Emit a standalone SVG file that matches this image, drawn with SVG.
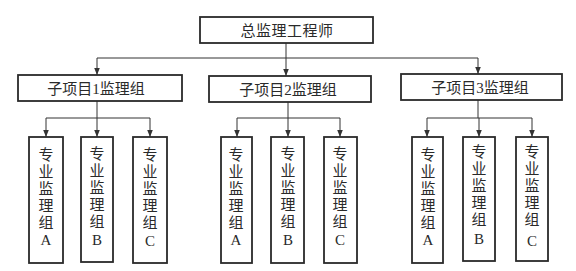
<svg xmlns="http://www.w3.org/2000/svg" width="576" height="271" viewBox="0 0 576 271">
<defs>
<style>
.box{fill:#fff;stroke:#2a2a2a;stroke-width:1.8}
.ln{fill:none;stroke:#333;stroke-width:1}
.t{font-family:"Liberation Serif","Noto Sans CJK SC",serif;font-size:15px;fill:#2a2a2a;text-anchor:middle}
</style>
<marker id="ar" viewBox="0 0 8 8" refX="8" refY="4" markerWidth="7" markerHeight="7" markerUnits="userSpaceOnUse" orient="auto">
<path d="M0,0.8 L8,4 L0,7.2 Z" fill="#333"/>
</marker>
</defs>
<rect width="576" height="271" fill="#fff"/>
<g id="connectors">
<line class="ln" x1="286" y1="43" x2="286" y2="58"/>
<line class="ln" x1="97" y1="58" x2="478" y2="58"/>
<line class="ln" x1="97" y1="58" x2="97" y2="75" marker-end="url(#ar)"/>
<line class="ln" x1="286" y1="58" x2="286" y2="76" marker-end="url(#ar)"/>
<line class="ln" x1="478" y1="58" x2="478" y2="74" marker-end="url(#ar)"/>
<line class="ln" x1="97" y1="101" x2="97" y2="118"/>
<line class="ln" x1="46" y1="118" x2="150" y2="118"/>
<line class="ln" x1="46" y1="118" x2="46" y2="137" marker-end="url(#ar)"/>
<line class="ln" x1="97" y1="118" x2="97" y2="137" marker-end="url(#ar)"/>
<line class="ln" x1="150" y1="118" x2="150" y2="137" marker-end="url(#ar)"/>
<line class="ln" x1="288" y1="102" x2="288" y2="118"/>
<line class="ln" x1="237" y1="118" x2="340" y2="118"/>
<line class="ln" x1="237" y1="118" x2="237" y2="137" marker-end="url(#ar)"/>
<line class="ln" x1="288" y1="118" x2="288" y2="137" marker-end="url(#ar)"/>
<line class="ln" x1="340" y1="118" x2="340" y2="137" marker-end="url(#ar)"/>
<line class="ln" x1="478" y1="100" x2="478" y2="118"/>
<line class="ln" x1="427" y1="118" x2="532" y2="118"/>
<line class="ln" x1="427" y1="118" x2="427" y2="137" marker-end="url(#ar)"/>
<line class="ln" x1="479" y1="118" x2="479" y2="137" marker-end="url(#ar)"/>
<line class="ln" x1="532" y1="118" x2="532" y2="137" marker-end="url(#ar)"/>
</g>
<g id="chief">
<rect class="box" x="200" y="17" width="173" height="26"/>
<text class="t" x="287" y="36" letter-spacing="0.5">总监理工程师</text>
</g>
<g id="sub1">
<rect class="box" x="18" y="75" width="164" height="26"/>
<text class="t" x="96" y="94">子项目1监理组</text>
</g>
<g id="sub2">
<rect class="box" x="209" y="76" width="162" height="26"/>
<text class="t" x="288" y="95">子项目2监理组</text>
</g>
<g id="sub3">
<rect class="box" x="401" y="74" width="161" height="26"/>
<text class="t" x="480" y="93">子项目3监理组</text>
</g>
<g id="s1a"><rect class="box" x="29" y="137" width="34" height="126"/>
<text class="t" x="46"><tspan x="46" y="160">专</tspan><tspan x="46" y="177">业</tspan><tspan x="46" y="194">监</tspan><tspan x="46" y="211">理</tspan><tspan x="46" y="228">组</tspan><tspan x="46" y="245">A</tspan></text></g>
<g id="s1b"><rect class="box" x="81" y="137" width="32" height="125"/>
<text class="t" x="97"><tspan x="97" y="159">专</tspan><tspan x="97" y="176">业</tspan><tspan x="97" y="193">监</tspan><tspan x="97" y="210">理</tspan><tspan x="97" y="227">组</tspan><tspan x="97" y="245">B</tspan></text></g>
<g id="s1c"><rect class="box" x="133" y="137" width="34" height="126"/>
<text class="t" x="150"><tspan x="150" y="160">专</tspan><tspan x="150" y="177">业</tspan><tspan x="150" y="194">监</tspan><tspan x="150" y="211">理</tspan><tspan x="150" y="228">组</tspan><tspan x="150" y="246">C</tspan></text></g>
<g id="s2a"><rect class="box" x="221" y="137" width="31" height="126"/>
<text class="t" x="236"><tspan x="236" y="160">专</tspan><tspan x="236" y="177">业</tspan><tspan x="236" y="194">监</tspan><tspan x="236" y="211">理</tspan><tspan x="236" y="228">组</tspan><tspan x="236" y="245">A</tspan></text></g>
<g id="s2b"><rect class="box" x="271" y="137" width="33" height="126"/>
<text class="t" x="288"><tspan x="288" y="159">专</tspan><tspan x="288" y="176">业</tspan><tspan x="288" y="193">监</tspan><tspan x="288" y="210">理</tspan><tspan x="288" y="227">组</tspan><tspan x="288" y="245">B</tspan></text></g>
<g id="s2c"><rect class="box" x="324" y="137" width="33" height="126"/>
<text class="t" x="340"><tspan x="340" y="159">专</tspan><tspan x="340" y="176">业</tspan><tspan x="340" y="193">监</tspan><tspan x="340" y="210">理</tspan><tspan x="340" y="227">组</tspan><tspan x="340" y="245">C</tspan></text></g>
<g id="s3a"><rect class="box" x="412" y="137" width="31" height="126"/>
<text class="t" x="428"><tspan x="428" y="160">专</tspan><tspan x="428" y="177">业</tspan><tspan x="428" y="194">监</tspan><tspan x="428" y="211">理</tspan><tspan x="428" y="228">组</tspan><tspan x="428" y="245">A</tspan></text></g>
<g id="s3b"><rect class="box" x="463" y="137" width="32" height="124"/>
<text class="t" x="479"><tspan x="479" y="157">专</tspan><tspan x="479" y="174">业</tspan><tspan x="479" y="191">监</tspan><tspan x="479" y="208">理</tspan><tspan x="479" y="225">组</tspan><tspan x="479" y="244">B</tspan></text></g>
<g id="s3c"><rect class="box" x="516" y="137" width="32" height="124"/>
<text class="t" x="532"><tspan x="532" y="157">专</tspan><tspan x="532" y="174">业</tspan><tspan x="532" y="191">监</tspan><tspan x="532" y="208">理</tspan><tspan x="532" y="225">组</tspan><tspan x="532" y="246">C</tspan></text></g>
</svg>
